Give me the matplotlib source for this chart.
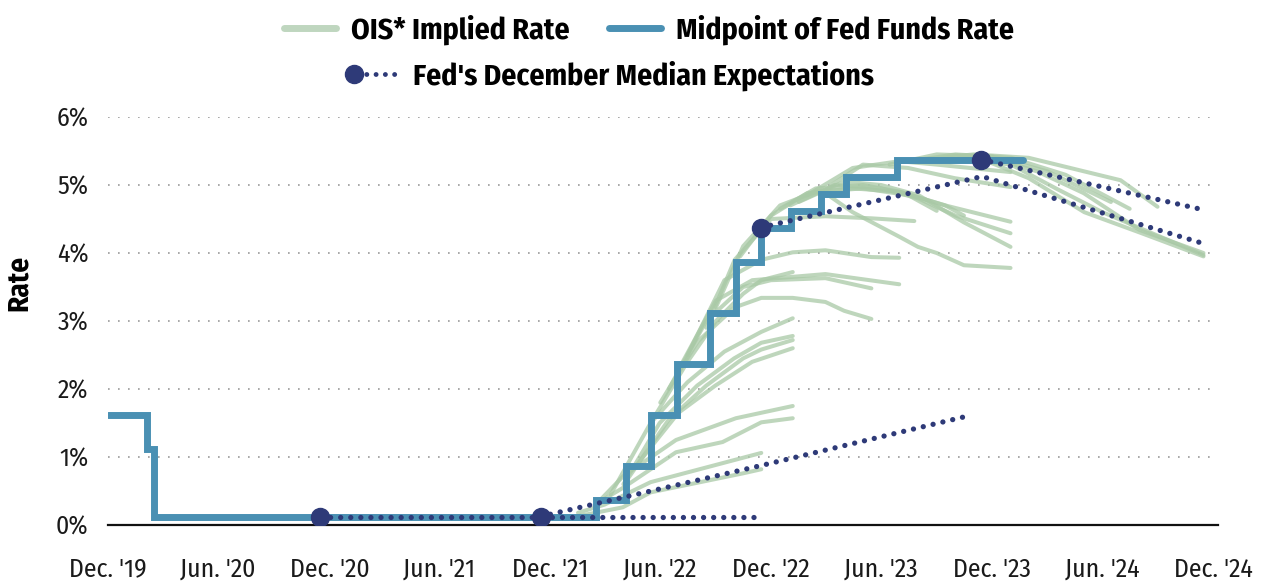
import matplotlib
matplotlib.use("Agg")
import matplotlib.pyplot as plt
from matplotlib.lines import Line2D
from matplotlib.legend_handler import HandlerBase
import numpy as np
import pandas as pd

# ---------------- data ----------------
tick_dates = ["2019-12-31", "2020-06-30", "2020-12-31", "2021-06-30", "2021-12-31",
              "2022-06-30", "2022-12-31", "2023-06-30", "2023-12-31", "2024-06-30",
              "2024-12-31"]
tick_labels = ["Dec. '19", "Jun. '20", "Dec. '20", "Jun. '21", "Dec. '21", "Jun. '22",
               "Dec. '22", "Jun. '23", "Dec. '23", "Jun. '24", "Dec. '24"]
y_ticks = [0, 1, 2, 3, 4, 5, 6]
y_tick_labels = ["0%", "1%", "2%", "3%", "4%", "5%", "6%"]

# Midpoint of Fed Funds target range (step series)
ffr_dates = ["2019-12-31", "2020-03-04", "2020-03-16", "2022-03-17", "2022-05-05",
             "2022-06-16", "2022-07-28", "2022-09-22", "2022-11-03", "2022-12-15",
             "2023-02-02", "2023-03-23", "2023-05-04", "2023-07-27", "2024-02-20"]
ffr_values = [1.625, 1.125, 0.125, 0.375, 0.875, 1.625, 2.375, 3.125, 3.875, 4.375,
              4.625, 4.875, 5.125, 5.375, 5.375]

# Fed's December median expectations
sep_2020_dates = ["2020-12-16", "2021-12-15", "2022-12-15"]
sep_2020_values = [0.125, 0.125, 0.125]
sep_2021_dates = ["2021-12-15", "2022-12-15", "2023-11-20"]
sep_2021_values = [0.125, 0.875, 1.60]
sep_2022_dates = ["2022-12-14", "2023-12-15", "2024-12-20"]
sep_2022_values = [4.375, 5.125, 4.125]
sep_2023_dates = ["2023-12-13", "2024-12-20"]
sep_2023_values = [5.375, 4.625]

# OIS implied rate paths (date, rate)
ois_2022_02a = [("2022-02-15", 0.13), ("2022-04-30", 0.26), ("2022-06-15", 0.48),
                ("2022-11-15", 0.76), ("2022-12-15", 0.82)]
ois_2022_02b = [("2022-02-15", 0.18), ("2022-03-31", 0.30), ("2022-06-15", 0.63),
                ("2022-12-15", 1.06)]
ois_2022_03a = [("2022-03-15", 0.30), ("2022-05-01", 0.55), ("2022-07-27", 1.07),
                ("2022-10-12", 1.22), ("2022-12-15", 1.51), ("2023-02-05", 1.57)]
ois_2022_03b = [("2022-03-25", 0.38), ("2022-05-01", 0.72), ("2022-07-27", 1.25),
                ("2022-11-03", 1.57), ("2023-02-05", 1.75)]
ois_2022_04 = [("2022-04-10", 0.45), ("2022-06-15", 1.50), ("2022-08-15", 2.10),
               ("2022-10-15", 2.55), ("2022-12-15", 2.84), ("2023-02-05", 3.04)]
ois_2022_05a = [("2022-05-01", 0.60), ("2022-06-30", 1.50), ("2022-08-31", 2.05),
                ("2022-10-31", 2.45), ("2022-12-15", 2.68), ("2023-02-05", 2.78)]
ois_2022_05b = [("2022-05-10", 0.70), ("2022-07-15", 1.55), ("2022-09-15", 2.05),
                ("2022-11-15", 2.45), ("2022-12-15", 2.58), ("2023-02-05", 2.72)]
ois_2022_05c = [("2022-05-20", 0.85), ("2022-07-31", 1.65), ("2022-09-30", 2.05),
                ("2022-11-30", 2.40), ("2023-02-05", 2.60)]
ois_2022_06 = [("2022-06-15", 1.50), ("2022-08-15", 2.40), ("2022-10-01", 3.00),
               ("2022-11-15", 3.40), ("2022-12-15", 3.60), ("2023-02-05", 3.72)]
ois_2022_07a = [("2022-07-01", 1.80), ("2022-09-01", 2.70), ("2022-11-01", 3.20),
                ("2022-12-15", 3.34), ("2023-02-05", 3.34), ("2023-03-31", 3.28),
                ("2023-05-01", 3.15), ("2023-06-15", 3.03)]
ois_2022_07b = [("2022-07-15", 2.00), ("2022-09-15", 3.00), ("2022-11-15", 3.50),
                ("2022-12-31", 3.60), ("2023-03-31", 3.63), ("2023-06-15", 3.48)]
ois_2022_08a = [("2022-08-01", 2.30), ("2022-10-01", 3.30), ("2022-11-30", 3.60),
                ("2023-03-31", 3.69), ("2023-07-31", 3.54)]
ois_2022_08b = [("2022-08-15", 2.50), ("2022-10-15", 3.60), ("2022-12-15", 3.90),
                ("2023-02-05", 4.01), ("2023-03-31", 4.04), ("2023-06-15", 3.94),
                ("2023-07-31", 3.93)]
ois_2022_09 = [("2022-09-15", 2.90), ("2022-11-01", 3.90), ("2022-12-31", 4.50),
               ("2023-03-31", 4.54), ("2023-06-15", 4.51), ("2023-08-25", 4.47)]
ois_2022_10 = [("2022-10-01", 3.20), ("2022-11-15", 4.10), ("2023-01-15", 4.70),
               ("2023-03-15", 4.90), ("2023-06-01", 4.95), ("2023-08-15", 4.85),
               ("2023-10-01", 4.62)]
ois_2022_11 = [("2022-11-10", 3.95), ("2022-12-31", 4.55), ("2023-03-01", 4.88),
               ("2023-05-15", 4.95), ("2023-08-01", 4.90), ("2023-10-15", 4.70),
               ("2023-11-15", 4.55)]
ois_2023_01 = [("2023-01-15", 4.65), ("2023-03-15", 4.95), ("2023-06-01", 5.00),
               ("2023-08-01", 4.90), ("2023-10-15", 4.70), ("2024-01-31", 4.46)]
ois_2023_02a = [("2023-02-01", 4.70), ("2023-04-15", 5.00), ("2023-07-01", 4.95),
                ("2023-09-01", 4.80), ("2023-11-01", 4.55), ("2024-01-31", 4.29)]
ois_2023_02b = [("2023-02-15", 4.75), ("2023-05-01", 5.05), ("2023-07-01", 5.00),
                ("2023-09-01", 4.85), ("2023-11-15", 4.45), ("2024-01-31", 4.09)]
ois_2023_03a = [("2023-03-31", 4.88), ("2023-05-15", 4.60), ("2023-07-31", 4.24),
                ("2023-08-31", 4.09), ("2023-10-01", 4.00), ("2023-11-15", 3.82),
                ("2024-01-31", 3.78)]
ois_2023_03b = [("2023-03-01", 4.85), ("2023-05-15", 5.25), ("2023-07-31", 5.35),
                ("2023-10-01", 5.30), ("2024-01-31", 5.19)]
ois_2023_04 = [("2023-04-10", 5.00), ("2023-06-01", 5.30), ("2023-08-15", 5.25),
               ("2023-10-31", 5.10), ("2024-01-31", 4.97)]
ois_2023_07 = [("2023-07-15", 5.30), ("2023-10-01", 5.45), ("2024-01-01", 5.42),
               ("2024-04-01", 5.20), ("2024-07-15", 4.75)]
ois_2023_08 = [("2023-08-15", 5.35), ("2023-11-01", 5.45), ("2024-02-01", 5.40),
               ("2024-05-01", 5.15), ("2024-08-15", 4.65)]
ois_2023_09 = [("2023-09-15", 5.38), ("2023-12-01", 5.45), ("2024-03-01", 5.40),
               ("2024-06-01", 5.20), ("2024-07-31", 5.07), ("2024-09-30", 4.68)]
ois_2023_10 = [("2023-10-15", 5.38), ("2024-01-01", 5.40), ("2024-03-15", 5.20),
               ("2024-05-31", 4.88), ("2024-08-31", 4.34), ("2024-12-15", 4.00)]
ois_2023_11 = [("2023-11-15", 5.38), ("2024-02-01", 5.30), ("2024-04-15", 4.95),
               ("2024-07-01", 4.60), ("2024-12-15", 3.97)]
ois_2023_12 = [("2023-12-15", 5.38), ("2024-03-01", 5.10), ("2024-06-01", 4.60),
               ("2024-09-01", 4.30), ("2024-12-15", 3.95)]

ois_curves = [ois_2022_02a, ois_2022_02b, ois_2022_03a, ois_2022_03b, ois_2022_04,
              ois_2022_05a, ois_2022_05b, ois_2022_05c, ois_2022_06, ois_2022_07a,
              ois_2022_07b, ois_2022_08a, ois_2022_08b, ois_2022_09, ois_2022_10,
              ois_2022_11, ois_2023_01, ois_2023_02a, ois_2023_02b, ois_2023_03a,
              ois_2023_03b, ois_2023_04, ois_2023_07, ois_2023_08, ois_2023_09,
              ois_2023_10, ois_2023_11, ois_2023_12]

# ---------------- style ----------------
FONT = ["Fira Sans Condensed", "Roboto Condensed", "Liberation Sans", "DejaVu Sans"]
plt.rcParams["font.family"] = FONT

GREEN = "#a9c9a6"
GREEN_LEG = "#bfd6bf"
BLUE = "#4a90b3"
NAVY = "#2e3a78"
DOT = (0, (0.01, 1.9))

fig = plt.figure(figsize=(12.64, 5.82), dpi=100)
ax = fig.add_axes([108 / 1264, 1 - 525 / 582, 1110 / 1264, 408 / 582])

for curve in ois_curves:
    d = pd.to_datetime([c[0] for c in curve])
    v = [c[1] for c in curve]
    ax.plot(d, v, color=GREEN, lw=2.9, alpha=0.75, solid_capstyle="round",
            solid_joinstyle="round", zorder=2)

ax.plot(pd.to_datetime(ffr_dates), ffr_values, drawstyle="steps-post", color=BLUE,
        lw=5.0, solid_capstyle="round", solid_joinstyle="miter", zorder=3)

for dts, vals in [(sep_2020_dates, sep_2020_values), (sep_2021_dates, sep_2021_values),
                  (sep_2022_dates, sep_2022_values), (sep_2023_dates, sep_2023_values)]:
    d = pd.to_datetime(dts)
    ax.plot(d, vals, color=NAVY, lw=3.8, linestyle=DOT, dash_capstyle="round", zorder=4)
    ax.plot(d[:1], vals[:1], marker="o", ms=13, color=NAVY, lw=0, zorder=5)

ax.set_xlim(pd.Timestamp("2019-12-31"), pd.Timestamp("2025-01-08"))
ax.set_ylim(0, 6)
ax.set_xticks(pd.to_datetime(tick_dates))
ax.set_xticklabels(tick_labels)
ax.set_yticks(y_ticks)
ax.set_yticklabels(y_tick_labels)
ax.tick_params(axis="both", length=0, labelsize=18.5, colors="#1a1a1a")
ax.tick_params(axis="x", pad=23)
ax.tick_params(axis="y", pad=14)

for s in ["top", "right", "left"]:
    ax.spines[s].set_visible(False)
ax.spines["bottom"].set_linewidth(1.6)
ax.spines["bottom"].set_color("#111111")
ax.set_axisbelow(True)
ax.yaxis.grid(True, color="#9a9a9a", lw=1.2, linestyle=(0, (1, 5)))

ax.set_ylabel("Rate", fontsize=21, fontweight="bold")
ax.yaxis.set_label_coords(-0.0676, 0.593)


class SepHandler(HandlerBase):
    def create_artists(self, legend, orig_handle, xdescent, ydescent, width, height,
                       fontsize, trans):
        y = height / 2 - ydescent
        line = Line2D([-xdescent + 8, -xdescent + width], [y, y], color=NAVY, lw=3.5,
                      linestyle=DOT, dash_capstyle="round", transform=trans)
        mk = Line2D([-xdescent + 6], [y], marker="o", ms=13, color=NAVY, lw=0,
                    transform=trans)
        return [line, mk]


h_ois = Line2D([], [], color=GREEN_LEG, lw=5, solid_capstyle="round")
h_ffr = Line2D([], [], color=BLUE, lw=5, solid_capstyle="round")
h_sep = Line2D([], [], color=NAVY)

leg_font = {"weight": "bold", "size": 21.5}
leg1 = fig.legend([h_ois, h_ffr], ["OIS* Implied Rate", "Midpoint of Fed Funds Rate"],
                  loc="center", bbox_to_anchor=(649 / 1264, 1 - 30 / 582), ncol=2,
                  frameon=False, prop=leg_font, handlelength=1.75, handletextpad=0.5,
                  columnspacing=1.3, borderaxespad=0, borderpad=0)
leg2 = fig.legend([h_sep], ["Fed's December Median Expectations"],
                  loc="center", bbox_to_anchor=(610 / 1264, 1 - 76 / 582), ncol=1,
                  frameon=False, prop=leg_font, handlelength=1.85, handletextpad=0.4,
                  borderaxespad=0, borderpad=0, handler_map={h_sep: SepHandler()})

fig.savefig("out.png", dpi=100)
